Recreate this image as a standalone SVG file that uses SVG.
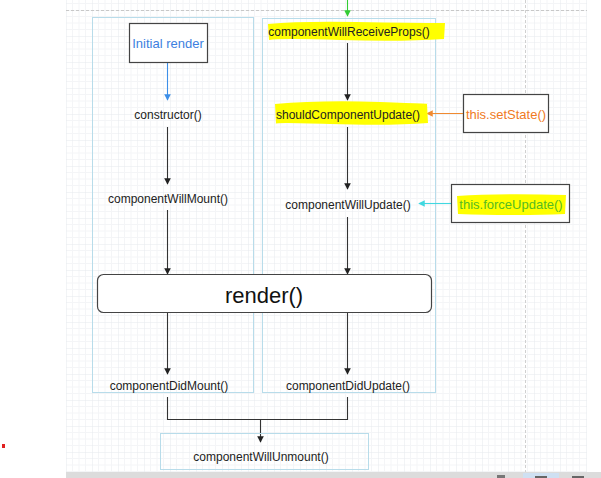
<svg xmlns="http://www.w3.org/2000/svg" width="601" height="478" viewBox="0 0 601 478">
  <style>
    .lbl { font-family: "Liberation Sans", "DejaVu Sans", sans-serif; font-size: 12px; fill: #222; text-anchor: middle; }
    .side { font-size: 13px; }
    .lane { fill: none; stroke: #b8dcea; stroke-width: 1; }
    .box { fill: #fff; stroke: #444; stroke-width: 1.2; }
    .hl { fill: #ffff00; }
    .wire { fill: none; stroke: #333; stroke-width: 1.1; }
  </style>
  <defs>
    <pattern id="grid" x="66" y="10" width="26" height="26" patternUnits="userSpaceOnUse">
      <path d="M6.5 0V26M13 0V26M19.5 0V26M0 6.5H26M0 13H26M0 19.5H26" stroke="#f4f5f7" stroke-width="1" fill="none"/>
      <path d="M0 0V26M0 0H26" stroke="#e6e9ed" stroke-width="1" fill="none"/>
    </pattern>
    <marker id="ah" viewBox="0 0 8 8" refX="7" refY="4" markerWidth="6" markerHeight="6" orient="auto">
      <path d="M0 0L8 4L0 8z" fill="#222"/>
    </marker>
    <marker id="ahBlue" viewBox="0 0 8 8" refX="7" refY="4" markerWidth="6" markerHeight="6" orient="auto">
      <path d="M0 0L8 4L0 8z" fill="#3d8fe8"/>
    </marker>
    <marker id="ahOrange" viewBox="0 0 8 8" refX="7" refY="4" markerWidth="6" markerHeight="6" orient="auto">
      <path d="M0 0L8 4L0 8z" fill="#f08a30"/>
    </marker>
    <marker id="ahCyan" viewBox="0 0 8 8" refX="7" refY="4" markerWidth="6" markerHeight="6" orient="auto">
      <path d="M0 0L8 4L0 8z" fill="#40d8e0"/>
    </marker>
    <marker id="ahGreen" viewBox="0 0 8 8" refX="7" refY="4" markerWidth="6" markerHeight="6" orient="auto">
      <path d="M0 0L8 4L0 8z" fill="#33cc33"/>
    </marker>
  </defs>

  <!-- canvas -->
  <rect x="0" y="0" width="601" height="478" fill="#fff"/>
  <rect x="66" y="0" width="521" height="472" fill="url(#grid)"/>
  <line x1="66" y1="10.5" x2="587" y2="10.5" stroke="#c8c8c8" stroke-width="1" stroke-dasharray="3 2"/>
  <line x1="525.5" y1="0" x2="525.5" y2="472" stroke="#d0d0d0" stroke-width="1" stroke-dasharray="3 2"/>
  <rect x="66" y="472" width="535" height="6" fill="#dcdcdc"/>
  <rect x="523" y="473" width="36" height="5" fill="#cfe0f2"/>
  <rect x="497" y="475" width="8" height="3" fill="#777"/>
  <rect x="535" y="476" width="12" height="2" fill="#666"/>
  <rect x="572" y="476" width="12" height="2" fill="#666"/>
  <rect x="2" y="444" width="3" height="4" fill="#e02020"/>

  <!-- lanes -->
  <rect id="mountLane" class="lane" x="92.5" y="17.5" width="161" height="375"/>
  <rect id="updateLane" class="lane" x="262.5" y="18.5" width="173" height="374"/>

  <!-- connectors -->
  <g id="connectors">
    <line x1="167.5" y1="62" x2="167.5" y2="100" stroke="#3d8fe8" stroke-width="1.1" marker-end="url(#ahBlue)"/>
    <line class="wire" x1="167.5" y1="127" x2="167.5" y2="184" marker-end="url(#ah)"/>
    <line class="wire" x1="167.5" y1="210" x2="167.5" y2="274" marker-end="url(#ah)"/>
    <line class="wire" x1="167.5" y1="313" x2="167.5" y2="374" marker-end="url(#ah)"/>

    <line x1="347.5" y1="0" x2="347.5" y2="16" stroke="#33cc33" stroke-width="1.1" marker-end="url(#ahGreen)"/>
    <line class="wire" x1="347.5" y1="43" x2="347.5" y2="100" marker-end="url(#ah)"/>
    <line class="wire" x1="347.5" y1="127" x2="347.5" y2="189" marker-end="url(#ah)"/>
    <line class="wire" x1="347.5" y1="217" x2="347.5" y2="274" marker-end="url(#ah)"/>
    <line class="wire" x1="347.5" y1="313" x2="347.5" y2="374" marker-end="url(#ah)"/>

    <line x1="465" y1="113.5" x2="427" y2="113.5" stroke="#f08a30" stroke-width="1.1" marker-end="url(#ahOrange)"/>
    <line x1="451" y1="203.5" x2="419" y2="203.5" stroke="#40d8e0" stroke-width="1.1" marker-end="url(#ahCyan)"/>

    <path class="wire" d="M167.5 397V419.5H347.5V397"/>
    <line class="wire" x1="260.5" y1="419.5" x2="260.5" y2="442" marker-end="url(#ah)"/>
  </g>

  <!-- mounting phase -->
  <g id="initialRender">
    <rect class="box" x="129.5" y="23.5" width="78" height="39"/>
    <text class="lbl side" x="168" y="48" style="fill:#3d7fe0">Initial render</text>
  </g>
  <g id="constructor">
    <text class="lbl" x="168" y="119">constructor()</text>
  </g>
  <g id="componentWillMount">
    <text class="lbl" x="168" y="203">componentWillMount()</text>
  </g>
  <g id="render">
    <rect class="box" x="97.5" y="274.5" width="334" height="38" rx="6"/>
    <text x="264" y="303" style="font-family:'Liberation Sans','DejaVu Sans',sans-serif;font-size:22px;fill:#111;text-anchor:middle">render()</text>
  </g>
  <g id="componentDidMount">
    <text class="lbl" x="169" y="390">componentDidMount()</text>
  </g>

  <!-- updating phase -->
  <g id="componentWillReceiveProps">
    <path class="hl" d="M268 24Q300 21 356 22T445 23L444 39Q400 42 340 40T269 40Z"/>
    <text class="lbl" x="349" y="36">componentWillReceiveProps()</text>
  </g>
  <g id="shouldComponentUpdate">
    <path class="hl" d="M275 104Q320 100 380 102T427 104L428 123Q390 126 330 124T276 124Z"/>
    <text class="lbl" x="348" y="119">shouldComponentUpdate()</text>
  </g>
  <g id="setState">
    <rect class="box" x="463.5" y="94.5" width="85" height="38"/>
    <text class="lbl side" x="506" y="119" style="fill:#f07a24">this.setState()</text>
  </g>
  <g id="componentWillUpdate">
    <text class="lbl" x="348" y="209">componentWillUpdate()</text>
  </g>
  <g id="forceUpdate">
    <rect class="box" x="451.5" y="184.5" width="118" height="38"/>
    <path class="hl" d="M457 196Q500 193 566 195L565 214Q520 216 458 214Z"/>
    <text class="lbl side" x="511" y="209" style="fill:#55bb22">this.forceUpdate()</text>
  </g>
  <g id="componentDidUpdate">
    <text class="lbl" x="348" y="390">componentDidUpdate()</text>
  </g>

  <!-- unmounting phase -->
  <g id="componentWillUnmount">
    <rect class="lane" x="160.5" y="433.5" width="208" height="36"/>
    <text class="lbl" x="261" y="461">componentWillUnmount()</text>
  </g>
</svg>
